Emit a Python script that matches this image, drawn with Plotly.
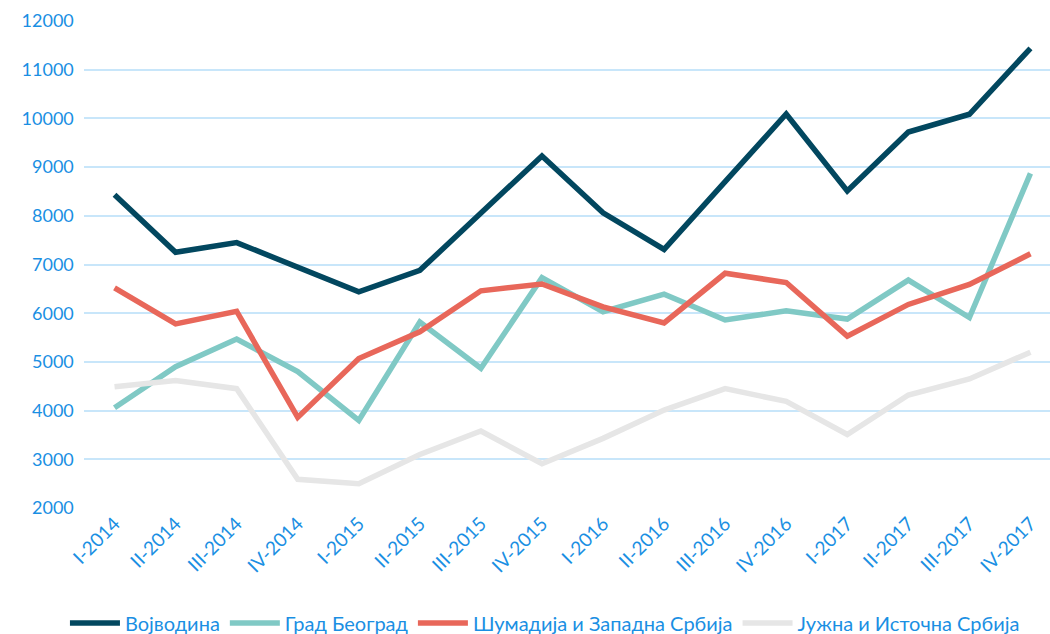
import plotly.graph_objects as go

categories = ["I-2014", "II-2014", "III-2014", "IV-2014",
              "I-2015", "II-2015", "III-2015", "IV-2015",
              "I-2016", "II-2016", "III-2016", "IV-2016",
              "I-2017", "II-2017", "III-2017", "IV-2017"]

vojvodina = [8430, 7250, 7450, 6950, 6440, 6880, 8050, 9230,
             8060, 7310, 8700, 10090, 8510, 9720, 10085, 11440]
beograd = [4060, 4900, 5470, 4800, 3800, 5820, 4870, 6730,
           6030, 6390, 5860, 6050, 5880, 6680, 5910, 8870]
sumadija = [6520, 5780, 6040, 3860, 5070, 5620, 6460, 6600,
            6130, 5800, 6820, 6630, 5530, 6180, 6590, 7220]
juzna = [4490, 4620, 4450, 2590, 2500, 3100, 3580, 2910,
         3430, 4010, 4450, 4190, 3510, 4320, 4650, 5200]

series = [
    ("Војводина", vojvodina, "#02475f"),
    ("Град Београд", beograd, "#80c9c5"),
    ("Шумадија и Западна Србија", sumadija, "#e8675a"),
    ("Јужна и Источна Србија", juzna, "#e6e6e6"),
]

blue = "#1a8fe3"
font_family = "Lato, 'Open Sans', sans-serif"

fig = go.Figure()
for name, vals, color in series:
    fig.add_trace(go.Scatter(
        x=list(range(len(categories))), y=vals, name=name, mode="lines",
        line=dict(color=color, width=5.5, shape="linear"),
    ))

fig.update_layout(
    width=1050, height=634,
    margin=dict(l=84, r=0, t=21, b=126, autoexpand=False),
    paper_bgcolor="white", plot_bgcolor="white",
    font=dict(family=font_family, color=blue, size=17),
    showlegend=True,
    legend=dict(
        orientation="h", xref="container", yref="paper",
        x=0.519, xanchor="center", y=-0.196, yanchor="top",
        font=dict(size=20, color=blue, family=font_family),
        itemwidth=50, tracegroupgap=0,
    ),
    xaxis=dict(
        tickmode="array", tickvals=list(range(len(categories))), ticktext=categories,
        range=[-0.5, 15.32], tickangle=-45, showgrid=False, zeroline=False,
        showline=False, ticks="", automargin=False,
        tickfont=dict(size=19, color=blue, family=font_family),
    ),
    yaxis=dict(
        range=[2000, 12000], tickmode="linear", tick0=2000, dtick=1000,
        tickformat="d",
        showgrid=True, gridcolor="#c8e6fa", gridwidth=1.5, zeroline=False,
        showline=False, ticks="", ticksuffix="  ", automargin=False,
        tickfont=dict(size=18, color=blue, family=font_family),
    ),
)

fig.write_html(
    "out.html",
    config={"displayModeBar": False},
    post_script="document.body.style.margin='0';document.body.style.overflow='hidden';",
)
